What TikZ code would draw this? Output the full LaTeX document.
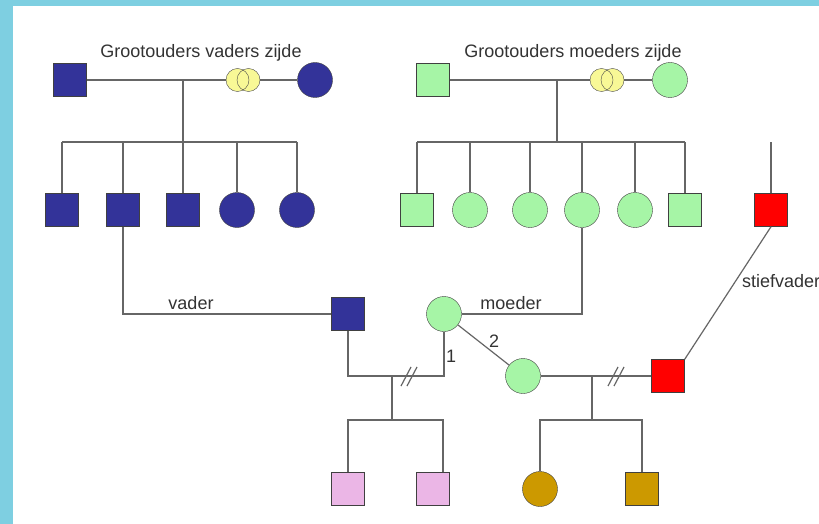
\documentclass[tikz,border=0pt]{standalone}
\usepackage{fontspec}
\setmainfont{Liberation Sans}
\definecolor{kader}{RGB}{126,207,225}
\definecolor{blauw}{RGB}{51,51,153}
\definecolor{groen}{RGB}{166,245,166}
\definecolor{rood}{RGB}{255,0,0}
\definecolor{roze}{RGB}{235,182,230}
\definecolor{goud}{RGB}{204,153,0}
\definecolor{ringgeel}{RGB}{248,248,150}
\begin{document}
\begin{tikzpicture}[x=1pt,y=-1pt,
    man/.style={rectangle,draw=black!75,minimum size=33,inner sep=0},
    vrouw/.style={circle,draw=black!75,minimum size=35,inner sep=0},
    lijn/.style={draw=black!60,line width=1.2pt},
    tekst/.style={text=black!80,font=\fontsize{18}{21}\selectfont,inner sep=1pt}]
    \useasboundingbox (0,0) rectangle (819,524);
    \fill[kader] (0,0) rectangle (819,524);
    \fill[white] (13,6) rectangle (819,524);

    % grootouders vaders zijde
    \node[man,fill=blauw] (gv) at (70,80) {};
    \node[vrouw,fill=blauw] (gm) at (315,80) {};
    \node[tekst,anchor=base] (tv) at (201,58) {Grootouders vaders zijde};
    \draw[lijn] (gv) -- (gm);
    \foreach \dx in {-5.5,5.5} \fill[ringgeel] (243+\dx,80) circle (11.5);
    \foreach \dx in {-5.5,5.5} \draw[black!70] (243+\dx,80) circle (11.5);
    \coordinate (vk) at (183,80);
    \coordinate (vbar) at (183,142);
    \node[man,fill=blauw] (v1) at (62,210) {};
    \node[man,fill=blauw] (v2) at (123,210) {};
    \node[man,fill=blauw] (v3) at (183,210) {};
    \node[vrouw,fill=blauw] (v4) at (237,210) {};
    \node[vrouw,fill=blauw] (v5) at (297,210) {};
    \draw[lijn] (vk) -- (vbar);
    \draw[lijn] (v1.north |- vbar) -- (v5.north |- vbar);
    \foreach \k in {v1,v2,v3,v4,v5} \draw[lijn] (\k.north) -- (\k.north |- vbar);

    % grootouders moeders zijde
    \node[man,fill=groen] (mv) at (433,80) {};
    \node[vrouw,fill=groen] (mm) at (670,80) {};
    \node[tekst,anchor=base] (tm) at (573,58) {Grootouders moeders zijde};
    \draw[lijn] (mv) -- (mm);
    \foreach \dx in {-5.5,5.5} \fill[ringgeel] (607+\dx,80) circle (11.5);
    \foreach \dx in {-5.5,5.5} \draw[black!70] (607+\dx,80) circle (11.5);
    \coordinate (mk) at (557,80);
    \coordinate (mbar) at (557,142);
    \node[man,fill=groen] (m1) at (417,210) {};
    \node[vrouw,fill=groen] (m2) at (470,210) {};
    \node[vrouw,fill=groen] (m3) at (530,210) {};
    \node[vrouw,fill=groen] (m4) at (582,210) {};
    \node[vrouw,fill=groen] (m5) at (635,210) {};
    \node[man,fill=groen] (m6) at (685,210) {};
    \draw[lijn] (mk) -- (mbar);
    \draw[lijn] (m1.north |- mbar) -- (m6.north |- mbar);
    \foreach \k in {m1,m2,m3,m4,m5,m6} \draw[lijn] (\k.north) -- (\k.north |- mbar);

    % stiefvader
    \node[man,fill=rood] (sv) at (771,210) {};
    \coordinate (svtop) at (771,142);
    \draw[lijn] (sv.north) -- (svtop);

    % ouders
    \node[man,fill=blauw] (vader) at (348,314) {};
    \node[vrouw,fill=groen] (moeder) at (444,314) {};
    \node[vrouw,fill=groen] (moeder2) at (523,376) {};
    \node[man,fill=rood] (stief) at (668,376) {};
    \draw[lijn] (v2.south) |- (vader.west);
    \node[tekst,anchor=base] (lv) at (191,309) {vader};
    \draw[lijn] (moeder.east) -| (m4.south);
    \node[tekst,anchor=base] (lm) at (511,309) {moeder};
    \draw[lijn] (sv.south) -- (stief.north east);
    \node[tekst,anchor=base west] (ls) at (741,287) {stiefvader};
    \draw[lijn] (moeder) -- (moeder2);
    \node[tekst] (l2) at (494,341) {2};

    % eerste huwelijk
    \coordinate (h1) at (392,376);
    \coordinate (h1bar) at (392,420);
    \draw[lijn] (vader.south) |- (h1) -| (moeder.south);
    \node[tekst] (l1) at (451,356) {1};
    \draw[lijn] (401,386) -- (411,367) (407,386) -- (417,367);
    \node[man,fill=roze] (k1) at (348,489) {};
    \node[man,fill=roze] (k2) at (433,489) {};
    \draw[lijn] (h1) -- (h1bar);
    \draw[lijn] (k1.north) |- (h1bar) -| ([xshift=10]k2.north);

    % tweede huwelijk
    \coordinate (h2) at (592,376);
    \coordinate (h2bar) at (592,420);
    \draw[lijn] (moeder2) -- (stief);
    \draw[lijn] (608,386) -- (618,367) (614,386) -- (624,367);
    \node[vrouw,fill=goud] (k3) at (540,489) {};
    \node[man,fill=goud] (k4) at (642,489) {};
    \draw[lijn] (h2) -- (h2bar);
    \draw[lijn] (k3.north) |- (h2bar) -| (k4.north);
\end{tikzpicture}
\end{document}
